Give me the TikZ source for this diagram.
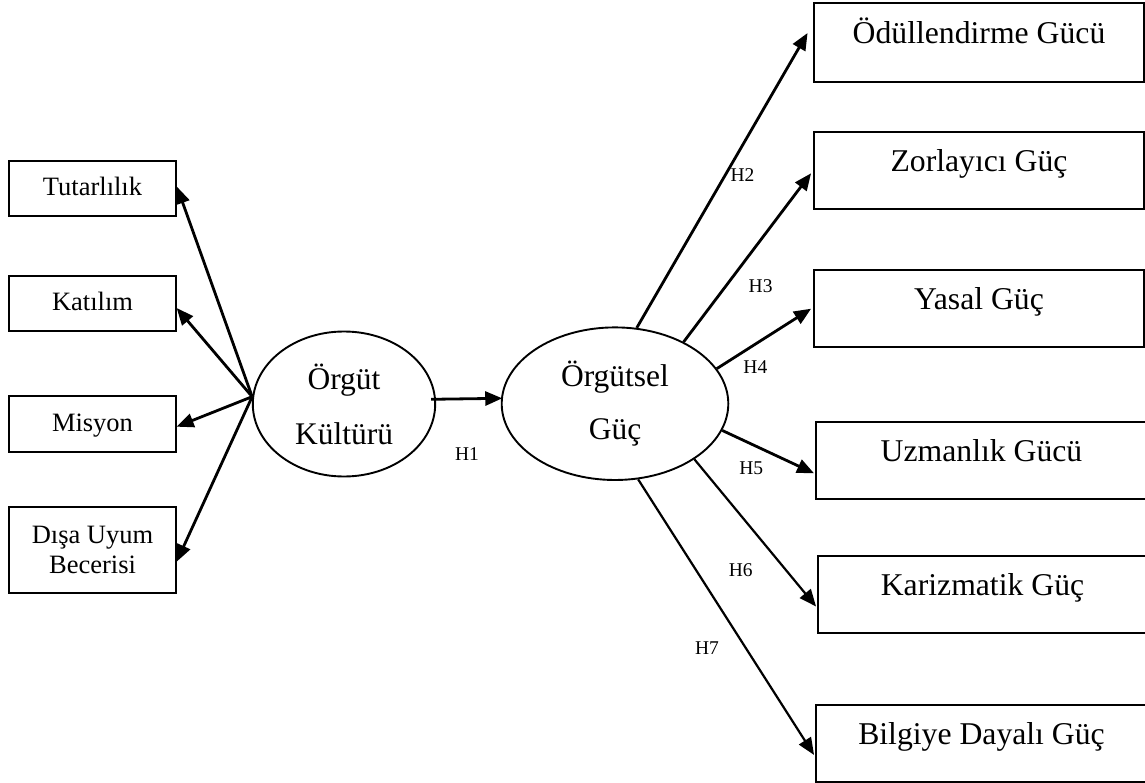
\documentclass[tikz,border=0pt]{standalone}
\usepackage{fontspec}
\setmainfont{Liberation Serif}
\usetikzlibrary{shapes.geometric,arrows.meta,calc}

\tikzset{
  lbox/.style={draw, line width=1.9pt, minimum width=166.4pt, inner sep=0pt,
    align=center, font=\fontsize{26.5}{30}\selectfont},
  rbox/.style={draw, line width=1.9pt, inner sep=0pt, text height=2pt, text depth=0pt,
    font=\fontsize{31.7}{38}\selectfont},
  construct/.style={draw, ellipse, line width=1.9pt, inner sep=0pt, align=center},
  arr/.style={line width=2.8pt, -{Triangle[length=17pt,width=14pt]}},
  arrthin/.style={line width=2.2pt, -{Triangle[length=17pt,width=14pt]}},
  hyp/.style={inner sep=0pt, font=\fontsize{19.5}{22}\selectfont}
}

\begin{document}
\begin{tikzpicture}[x=1pt,y=-1pt]
\useasboundingbox (0,0) rectangle (1145,783);

% dimensions of organisational culture
\node[lbox, minimum height=55.3pt, text height=15.4pt, text depth=0pt] (tut) at (92.5,188.3) {Tutarlılık};
\node[lbox, minimum height=55.3pt, text height=15.4pt, text depth=0pt] (kat) at (92.5,303.3) {Katılım};
\node[lbox, minimum height=56pt, text height=15.4pt, text depth=0pt] (mis) at (92.5,423.7) {Misyon};
\node[lbox, minimum height=86.6pt] (disa) at (92.5,550) {Dışa Uyum\\Becerisi};

% latent constructs
\node[construct, minimum width=182.4pt, minimum height=145pt,
      font=\fontsize{31.5}{55}\selectfont] (kultur) at (344,404) {Örgüt\\Kültürü};
\node[construct, minimum width=226.6pt, minimum height=152.6pt,
      font=\fontsize{31.5}{53.5}\selectfont] (guc) at (615,403.7) {Örgütsel\\Güç};

% power bases
\node[rbox, minimum width=330pt, minimum height=78.4pt] (odul) at (979,42.5) {Ödüllendirme Gücü};
\node[rbox, minimum width=330pt, minimum height=77.6pt] (zor) at (979,170.5) {Zorlayıcı Güç};
\node[rbox, minimum width=330pt, minimum height=77.4pt] (yasal) at (979,308.7) {Yasal Güç};
\node[rbox, minimum width=331pt, minimum height=77pt] (uzm) at (981.5,460.8) {Uzmanlık Gücü};
\node[rbox, minimum width=329pt, minimum height=77.6pt] (kar) at (982.5,594.5) {Karizmatik Güç};
\node[rbox, minimum width=331pt, minimum height=77.3pt] (bil) at (981.5,743.65) {Bilgiye Dayalı Güç};

% culture to its dimensions
\coordinate (fan) at ($(kultur.west)+(0.3,-7.3)$);
\draw[arr] (fan) -- ($(tut.east)+(0.3,-1.6)$);
\draw[arr] (fan) -- ($(kat.east)+(0,4.7)$);
\draw[arr] (fan) -- ($(mis.east)+(0,3)$);
\draw[arr] (fan) -- ($(disa.east)+(0,11.7)$);

% culture to power
\draw[arr] ($(kultur.east)+(-5,-4.7)$) -- ($(guc.west)+(1.5,-5.4)$);

% power to its bases
\draw[arr] (guc.74.1) -- ($(odul.west)+(-5.5,-9.5)$);
\draw[arr] (guc.42.4) -- ($(zor.west)+(-2,2.8)$);
\draw[arr] (guc.19.2) -- ($(yasal.west)+(-2,0)$);
\draw[arr] (guc.-14.7) -- ($(uzm.west)+(-1,12.5)$);
\draw[arrthin] (guc.-35.5) -- ($(kar.west)+(-1,12)$);
\draw[arrthin] (guc.-73.6) -- ($(bil.west)+(-1,11.3)$);

% hypothesis labels
\node[hyp] (h1) at (467,454) {H1};
\node[hyp] (h2) at (742.5,175) {H2};
\node[hyp] (h3) at (760.6,286) {H3};
\node[hyp] (h4) at (755.4,366.7) {H4};
\node[hyp] (h5) at (751.2,468.3) {H5};
\node[hyp] (h6) at (740.8,570) {H6};
\node[hyp] (h7) at (707,648.3) {H7};
\end{tikzpicture}
\end{document}
